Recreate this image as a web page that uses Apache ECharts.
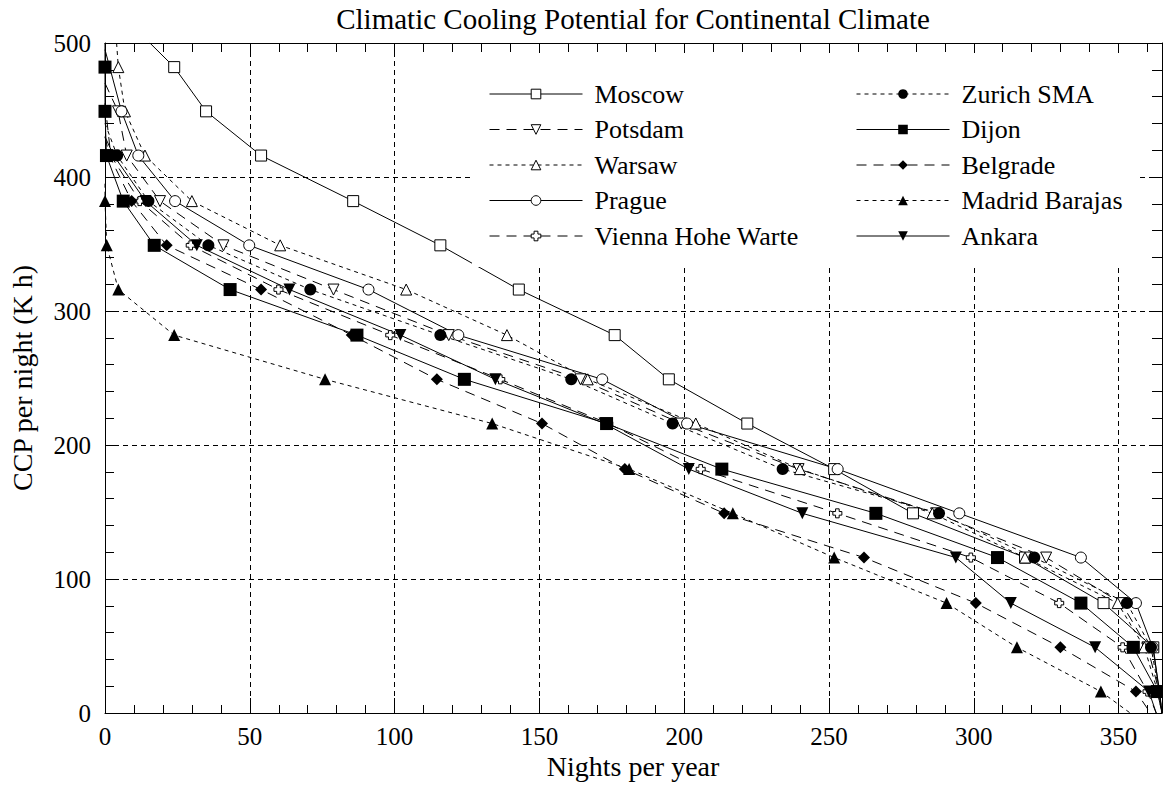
<!DOCTYPE html>
<html><head><meta charset="utf-8">
<script src="https://cdn.jsdelivr.net/npm/echarts@6/dist/echarts.min.js"></script>
<style>html,body{margin:0;padding:0;background:#fff}#chart{width:1163px;height:787px}</style>
</head><body><div id="chart"></div>
<script>
// ---- data ----
const chartTitle = 'Climatic Cooling Potential for Continental Climate';
const xName = 'Nights per year';
const yName = 'CCP per night (K h)';
const cities = ['Moscow','Potsdam','Warsaw','Prague','Vienna Hohe Warte','Zurich SMA','Dijon','Belgrade','Madrid Barajas','Ankara'];
// CCP levels (K h) at which the curve markers sit
const levels = [482, 449, 416, 382, 349, 316, 282, 249, 216, 182, 149, 116, 82, 49, 16];
// nights per year at each level (null = no visible marker)
const moscowX   = [23.9, 34.9, 53.9, 85.7, 115.8, 142.9, 176.0, 194.7, 221.8, 251.8, 279.0, 317.7, 344.8, 362.0, 364.0];
const potsdamX  = [null, 4.5, 7.5, 19.0, 40.9, 78.9, 118.7, 164.2, 199.0, 239.5, 287.0, 325.0, 351.0, 360.0, 364.0];
const warsawX   = [4.6, 6.9, 13.8, 30.0, 60.5, 104.0, 138.8, 166.7, 204.0, 240.0, 285.7, 317.7, 349.7, 358.9, 363.5];
const pragueX   = [null, 5.7, 11.5, 24.2, 49.8, 91.0, 122.0, 171.7, 201.0, 253.0, 295.0, 337.0, 356.0, 361.8, 364.2];
const viennaX   = [null, null, 2.0, 12.0, 29.6, 59.9, 98.5, 136.5, 173.8, 205.7, 252.9, 299.0, 329.5, 351.4, 360.0];
const zurichX   = [null, null, 4.2, 15.0, 35.7, 70.9, 115.8, 161.0, 196.0, 234.0, 288.0, 320.9, 352.9, 361.2, 364.0];
const dijonX    = [0, 0, 0.5, 6.3, 17.0, 43.2, 87.0, 124.1, 173.2, 213.0, 266.2, 308.2, 337.0, 355.1, 363.4];
const belgradeX = [null, null, 1.5, 9.2, 21.3, 53.9, 85.2, 114.6, 150.9, 179.5, 213.8, 262.1, 300.7, 329.9, 356.0];
const madridX   = [null, null, null, 0, 0.6, 4.6, 23.9, 76.0, 133.7, 181.0, 216.8, 251.8, 290.6, 314.9, 343.9];
const ankaraX   = [null, null, 3.0, 14.0, 31.7, 63.7, 102.0, 134.8, 172.5, 201.6, 240.8, 293.8, 312.8, 341.9, 360.5];
// curve start (top) and end (at CCP = 0), same order as cities
const startX = [15.5, 0, 4, 0, 0, 0, 0, 0, 0, 0];
const startY = [500, 470, 500, 495, 455, 440, 500, 430, 395, 430];
const endX   = [365, 365, 365, 365, 363, 365, 365, 361, 354, 363];
const xTicks = [0, 50, 100, 150, 200, 250, 300, 350];
const yTicks = [0, 100, 200, 300, 400, 500];

const seriesX = [moscowX, potsdamX, warsawX, pragueX, viennaX, zurichX, dijonX, belgradeX, madridX, ankaraX];

// ---- styles ----
const FONT = 'Liberation Serif';
const crossPath = 'path://M3,0H7V3H10V7H7V10H3V7H0V3H3Z';
const looks = [
  {symbol:'rect', rot:0, hollow:true, size:11, dash:'solid'},
  {symbol:'triangle', rot:180, hollow:true, size:11, dash:[10,7]},
  {symbol:'triangle', rot:0, hollow:true, size:11, dash:[4,4]},
  {symbol:'circle', rot:0, hollow:true, size:11, dash:'solid'},
  {symbol:crossPath, rot:0, hollow:true, size:9, dash:[10,7]},
  {symbol:'circle', rot:0, hollow:false, size:12, dash:[4,4]},
  {symbol:'rect', rot:0, hollow:false, size:13, dash:'solid'},
  {symbol:'diamond', rot:0, hollow:false, size:12, dash:[10,7]},
  {symbol:'triangle', rot:0, hollow:false, size:12, dash:[4,4]},
  {symbol:'triangle', rot:180, hollow:false, size:12, dash:'solid'}
];
function markStyle(l){ return l.hollow ? {color:'#fff', borderColor:'#000', borderWidth:1} : {color:'#000', borderWidth:0}; }

const series = cities.map((name, i) => {
  const data = [{value:[startX[i], startY[i]], symbol:'none'}];
  levels.forEach((lv, k) => { const x = seriesX[i][k]; if (x !== null) data.push([x, lv]); });
  data.push({value:[endX[i], 0], symbol:'none'});
  const l = looks[i];
  return {
    name, type:'line', data, xAxisIndex:0, yAxisIndex:0,
    symbol:l.symbol, symbolSize:l.size, symbolRotate:l.rot, showSymbol:true, showAllSymbol:true,
    lineStyle:{color:'#000', width:1, type:l.dash},
    itemStyle:markStyle(l), animation:false, silent:true, z:3
  };
});

function legendData(a, b){ return cities.slice(a, b).map((n, j) => ({name:n, itemStyle:markStyle(looks[a + j])})); }
const legendCommon = {
  orient:'vertical', top:55, itemWidth:93, itemHeight:12, itemGap:9.5, backgroundColor:'#fff',
  selectedMode:false, z:5,
  textStyle:{fontFamily:FONT, fontSize:26, color:'#000', lineHeight:26, padding:[0,0,0,7]},
  lineStyle:{width:1}
};

const axisTxt = {fontFamily:FONT, fontSize:25, color:'#000'};
const gridDash = {show:true, showMinLine:false, showMaxLine:false, lineStyle:{color:'#000', width:1, type:[5,4]}};
const hidden = {show:false};

const option = {
  backgroundColor:'#fff',
  animation:false,
  grid:{left:105, right:1, top:43, bottom:74, containLabel:false},
  xAxis:[
    {type:'value', position:'bottom', min:xTicks[0], max:365, interval:xTicks[1]-xTicks[0],
     axisLine:{show:true, onZero:false, lineStyle:{color:'#000', width:1}},
     axisTick:{show:true, inside:true, length:15, lineStyle:{color:'#000'}},
     axisLabel:{show:true, margin:11, showMaxLabel:false, ...axisTxt},
     splitLine:gridDash},
    {type:'value', position:'bottom', min:0, max:365, interval:10,
     axisLine:{show:false, onZero:false}, axisTick:{show:true, inside:true, length:8, lineStyle:{color:'#000'}},
     axisLabel:hidden, splitLine:hidden},
    {type:'value', position:'top', min:0, max:365, interval:10,
     axisLine:{show:true, onZero:false, lineStyle:{color:'#000', width:1}}, axisTick:{show:true, inside:true, length:9, lineStyle:{color:'#000'}},
     axisLabel:hidden, splitLine:hidden}
  ],
  yAxis:[
    {type:'value', position:'left', min:yTicks[0], max:yTicks[yTicks.length-1], interval:yTicks[1]-yTicks[0],
     axisLine:{show:true, onZero:false, lineStyle:{color:'#000', width:1}},
     axisTick:{show:true, inside:true, length:12, lineStyle:{color:'#000'}},
     axisLabel:{show:true, margin:14, ...axisTxt},
     splitLine:gridDash},
    {type:'value', position:'left', min:0, max:500, interval:20,
     axisLine:{show:false, onZero:false}, axisTick:{show:true, inside:true, length:9, lineStyle:{color:'#000'}},
     axisLabel:hidden, splitLine:hidden},
    {type:'value', position:'right', min:0, max:500, interval:20,
     axisLine:{show:true, onZero:false, lineStyle:{color:'#000', width:1}}, axisTick:{show:true, inside:true, length:10, lineStyle:{color:'#000'}},
     axisLabel:hidden, splitLine:hidden}
  ],
  legend:[
    {...legendCommon, left:472, padding:[26,45,18,17], data:legendData(0,5)},
    {...legendCommon, left:812, padding:[26,17,18,44], data:legendData(5,10)}
  ],
  graphic:[
    {type:'rect', z:4, silent:true, shape:{x:472, y:53, width:668, height:214}, style:{fill:'#fff'}},
    {type:'text', x:633, y:19, style:{text:chartTitle, fontFamily:FONT, fontSize:29, fill:'#000', align:'center', verticalAlign:'middle'}},
    {type:'text', x:633, y:766, style:{text:xName, fontFamily:FONT, fontSize:28, fill:'#000', align:'center', verticalAlign:'middle'}},
    {type:'text', x:22, y:378, rotation:Math.PI/2, style:{text:yName, fontFamily:FONT, fontSize:28, fill:'#000', align:'center', verticalAlign:'middle'}}
  ],
  series
};

const chart = echarts.init(document.getElementById('chart'), null, {renderer:'svg', width:1163, height:787});
chart.setOption(option);
</script>
</body></html>
